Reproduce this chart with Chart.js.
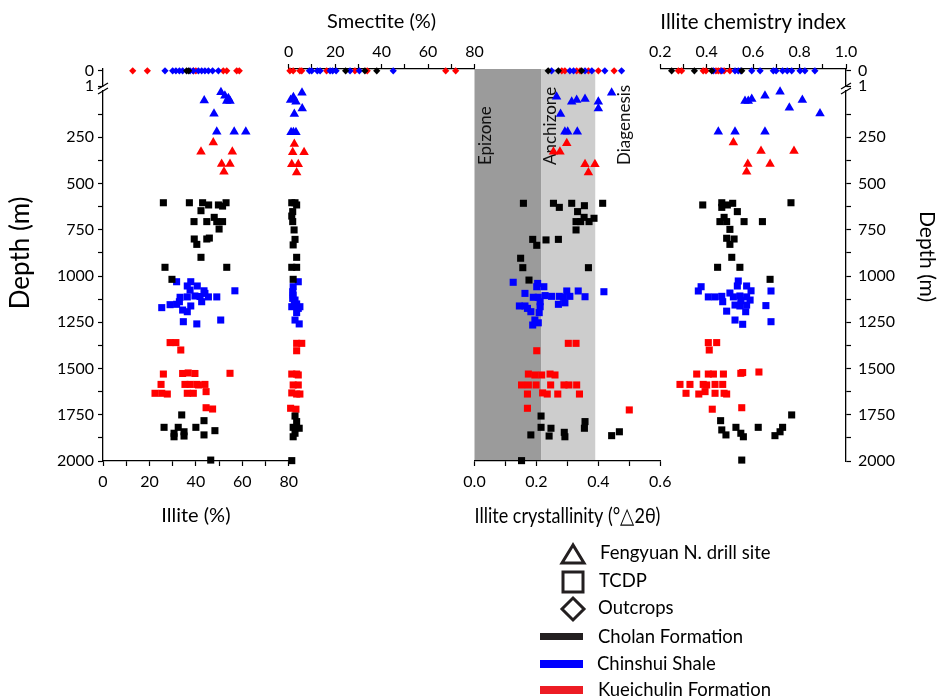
<!DOCTYPE html>
<html>
<head>
<meta charset="utf-8">
<script src="https://cdn.jsdelivr.net/npm/chart.js@4.4.1/dist/chart.umd.min.js"></script>
<style>
  html, body { margin: 0; padding: 0; background: #fff; }
  #wrap { position: relative; width: 940px; height: 697px; overflow: hidden; font-family: Lato, "Noto Sans", sans-serif; }
  #chart { position: absolute; left: 0; top: 0; }
  #key { position: absolute; left: 0; top: 0; }
  .key-text { position: absolute; font-size: 18.5px; color: #000; white-space: nowrap; transform: translateY(-50%); }
</style>
</head>
<body>
<div id="wrap">
  <canvas id="chart" width="940" height="697"></canvas>
  <svg id="key" width="940" height="697">
    <g fill="none" stroke="#231f20" stroke-width="3">
      <polygon points="573,545 562,563 584,563" />
      <rect x="563" y="572" width="20" height="20" />
      <polygon points="573,598 584,609 573,620 562,609" />
    </g>
    <rect x="540" y="633" width="43" height="7" fill="#231f20" />
    <rect x="540" y="660" width="43" height="8" fill="#0000ff" />
    <rect x="540" y="686" width="43" height="8" fill="#ed1c24" />
  </svg>
  <div class="key-text" style="left:600px;top:552px">Fengyuan N. drill site</div>
  <div class="key-text" style="left:599px;top:580px">TCDP</div>
  <div class="key-text" style="left:598px;top:607px">Outcrops</div>
  <div class="key-text" style="left:598px;top:636px">Cholan Formation</div>
  <div class="key-text" style="left:597px;top:663px">Chinshui Shale</div>
  <div class="key-text" style="left:598px;top:689px">Kueichulin Formation</div>
</div>
<script>
// ---- data: [value, depth (m)] ; outcrops sit at depth 0 (top strip) ----

// Illite (%)
const illiteFengyuanChinshui = [[50.8, 7], [52.5, 25], [54.0, 39], [54.7, 54], [53.3, 54], [43.6, 52], [47.8, 123], [49.0, 220], [56.5, 220], [61.5, 220]]
const illiteFengyuanKueichulin = [[47.5, 279], [42.2, 328], [55.7, 328], [51.1, 395], [54.7, 395], [52.1, 436]]
const illiteTcdpCholan = [[26.0, 604], [37.2, 604], [42.9, 604], [45.5, 616], [49.7, 616], [51.5, 622], [53.0, 604], [42.2, 647], [39.2, 706], [44.7, 706], [47.9, 683], [49.0, 706], [51.5, 706], [50.0, 746], [39.3, 800], [40.4, 829], [44.7, 800], [45.8, 795], [42.2, 899], [26.7, 953], [53.3, 953], [29.7, 1018],
  [33.9, 1751], [26.3, 1818], [30.6, 1850], [30.6, 1869], [32.4, 1818], [34.9, 1842], [34.9, 1865], [40.0, 1818], [43.5, 1782], [43.5, 1859], [48.2, 1836], [46.4, 1995]]
const illiteTcdpChinshui = [[31.7, 1031], [37.8, 1031], [36.3, 1054], [40.6, 1054], [37.5, 1076], [43.5, 1080], [43.9, 1094], [56.8, 1080], [33.2, 1115], [36.3, 1113], [39.6, 1108], [41.8, 1111], [45.4, 1113], [49.0, 1113], [42.5, 1139], [32.9, 1139], [37.8, 1162], [25.3, 1171], [28.9, 1155], [31.7, 1153], [34.3, 1184], [36.3, 1193], [34.6, 1247], [40.4, 1259], [50.7, 1238]]
const illiteTcdpKueichulin = [[28.9, 1360], [31.4, 1360], [33.5, 1400], [26.0, 1530], [34.3, 1527], [36.7, 1524], [39.6, 1527], [54.7, 1526], [25.0, 1586], [35.3, 1586], [37.5, 1586], [40.4, 1586], [41.1, 1589], [43.9, 1586], [22.4, 1634], [25.3, 1634], [27.7, 1638], [36.3, 1634], [38.9, 1634], [44.4, 1625], [44.4, 1712], [47.2, 1719]]
const illiteOutcropCholan = [36.0, 36.9]
const illiteOutcropChinshui = [26.7, 30.0, 31.4, 32.9, 34.3, 37.5, 38.9, 41.1, 42.5, 43.9, 45.4, 47.2, 49.7]
const illiteOutcropKueichulin = [12.8, 19.1, 38.9, 40.0, 51.8, 53.3, 57.6, 58.7]

// Smectite (%)
const smectiteFengyuanChinshui = [[5.7, 9], [2.0, 34], [0.8, 49], [3.1, 58], [5.8, 94], [2.4, 124], [1.0, 223], [2.0, 223], [3.1, 223]]
const smectiteFengyuanKueichulin = [[2.4, 286], [1.7, 331], [6.6, 331], [1.3, 396], [4.1, 396], [3.4, 441]]
const smectiteTcdpCholan = [[1.3, 604], [2.7, 604], [3.4, 616], [1.7, 652], [1.3, 676], [1.7, 706], [2.3, 751], [2.7, 802], [1.9, 832], [3.4, 899], [1.3, 953], [3.4, 953], [1.9, 1018],
  [2.7, 1757], [3.4, 1787], [1.9, 1818], [4.5, 1823], [2.7, 1850], [1.9, 1869], [1.3, 1998]]
const smectiteTcdpChinshui = [[4.1, 1031], [1.9, 1058], [1.7, 1085], [1.9, 1103], [1.7, 1121], [2.7, 1130], [2.4, 1148], [3.4, 1151], [1.3, 1166], [4.8, 1166], [4.1, 1175], [3.4, 1198], [2.7, 1238], [4.5, 1259]]
const smectiteTcdpKueichulin = [[3.4, 1364], [5.6, 1364], [3.4, 1404], [1.3, 1530], [3.4, 1530], [4.1, 1535], [1.9, 1589], [4.1, 1589], [1.3, 1632], [3.4, 1638], [4.8, 1638], [0.8, 1715], [3.1, 1720]]
const smectiteOutcropCholan = [24.5, 32.8, 37.9]
const smectiteOutcropChinshui = [8.9, 9.9, 12.3, 13.5, 17.8, 18.9, 20.4, 26.4, 30.4, 45.0]
const smectiteOutcropKueichulin = [0.5, 1.9, 4.8, 5.6, 16.3, 28.5, 33.8, 67.6, 71.9]

// Illite crystallinity (deg 2theta)
const crystFengyuanChinshui = [[0.265, 31], [0.314, 58], [0.330, 49], [0.357, 43], [0.443, 9], [0.400, 58], [0.400, 94], [0.278, 124], [0.292, 220], [0.301, 220], [0.332, 220]]
const crystFengyuanKueichulin = [[0.298, 283], [0.255, 328], [0.276, 328], [0.357, 396], [0.389, 396], [0.368, 440]]
const crystTcdpCholan = [[0.158, 607], [0.255, 607], [0.274, 629], [0.314, 607], [0.355, 620], [0.414, 607], [0.333, 652], [0.354, 683], [0.386, 688], [0.328, 706], [0.343, 706], [0.370, 706], [0.328, 751], [0.188, 802], [0.231, 805], [0.271, 802], [0.201, 834], [0.149, 904], [0.156, 955], [0.368, 955], [0.176, 1022],
  [0.215, 1757], [0.215, 1818], [0.247, 1823], [0.357, 1787], [0.355, 1823], [0.182, 1859], [0.241, 1865], [0.290, 1845], [0.292, 1869], [0.443, 1863], [0.468, 1842], [0.152, 1998]]
const crystTcdpChinshui = [[0.125, 1034], [0.204, 1040], [0.201, 1058], [0.224, 1058], [0.163, 1094], [0.298, 1081], [0.335, 1081], [0.418, 1085], [0.190, 1115], [0.206, 1115], [0.228, 1106], [0.249, 1110], [0.274, 1110], [0.287, 1115], [0.308, 1110], [0.357, 1112], [0.212, 1139], [0.292, 1145], [0.271, 1153], [0.145, 1162], [0.163, 1162], [0.212, 1166], [0.171, 1175], [0.182, 1193], [0.209, 1198], [0.195, 1238], [0.188, 1265], [0.206, 1253]]
const crystTcdpKueichulin = [[0.303, 1364], [0.328, 1364], [0.201, 1404], [0.174, 1530], [0.195, 1535], [0.217, 1535], [0.244, 1530], [0.260, 1535], [0.152, 1589], [0.174, 1589], [0.199, 1589], [0.246, 1589], [0.289, 1589], [0.305, 1589], [0.330, 1589], [0.171, 1638], [0.220, 1632], [0.235, 1638], [0.269, 1638], [0.339, 1638], [0.171, 1715], [0.500, 1724]]
const crystOutcropCholan = [0.238, 0.271, 0.346]
const crystOutcropChinshui = [0.249, 0.308, 0.320, 0.357, 0.379, 0.421, 0.475]
const crystOutcropKueichulin = [0.282, 0.292, 0.330, 0.341, 0.368, 0.400, 0.451]

// Illite chemistry index
const chemFengyuanChinshui = [[0.716, 4], [0.651, 25], [0.594, 43], [0.579, 54], [0.565, 54], [0.812, 49], [0.756, 90], [0.888, 121], [0.450, 220], [0.522, 220], [0.651, 220]]
const chemFengyuanKueichulin = [[0.515, 279], [0.634, 324], [0.776, 324], [0.577, 395], [0.673, 395], [0.572, 436]]
const chemTcdpCholan = [[0.383, 616], [0.465, 604], [0.465, 629], [0.489, 616], [0.512, 607], [0.532, 652], [0.763, 604], [0.475, 683], [0.457, 706], [0.486, 706], [0.561, 706], [0.640, 706], [0.500, 748], [0.486, 796], [0.518, 800], [0.500, 829], [0.508, 899], [0.447, 953], [0.543, 953], [0.673, 1018],
  [0.460, 1782], [0.766, 1751], [0.465, 1832], [0.483, 1859], [0.526, 1818], [0.547, 1850], [0.558, 1869], [0.622, 1818], [0.694, 1863], [0.716, 1842], [0.727, 1818], [0.551, 1995]]
const chemTcdpChinshui = [[0.376, 1058], [0.364, 1081], [0.536, 1027], [0.532, 1054], [0.572, 1054], [0.591, 1080], [0.677, 1081], [0.407, 1113], [0.436, 1113], [0.465, 1110], [0.500, 1092], [0.515, 1113], [0.543, 1108], [0.572, 1113], [0.587, 1130], [0.547, 1133], [0.469, 1139], [0.522, 1157], [0.543, 1162], [0.572, 1157], [0.655, 1160], [0.486, 1190], [0.568, 1193], [0.522, 1238], [0.555, 1261], [0.677, 1247]]
const chemTcdpKueichulin = [[0.407, 1360], [0.443, 1360], [0.411, 1400], [0.357, 1530], [0.407, 1530], [0.429, 1530], [0.472, 1530], [0.547, 1526], [0.555, 1522], [0.625, 1519], [0.285, 1586], [0.328, 1586], [0.385, 1586], [0.400, 1589], [0.436, 1586], [0.469, 1586], [0.311, 1634], [0.366, 1638], [0.393, 1625], [0.436, 1634], [0.475, 1634], [0.486, 1638], [0.424, 1720], [0.551, 1712]]
const chemOutcropCholan = [0.249, 0.347, 0.422, 0.551]
const chemOutcropChinshui = [0.429, 0.465, 0.522, 0.536, 0.547, 0.594, 0.630, 0.687, 0.699, 0.727, 0.747, 0.766, 0.802, 0.823, 0.866]
const chemOutcropKueichulin = [0.278, 0.292, 0.385, 0.397, 0.440, 0.450, 0.460, 0.475, 0.500]

// ---- ticks ----
const depthTicks = [125, 250, 375, 500, 625, 750, 875, 1000, 1125, 1250, 1375, 1500, 1625, 1750, 1875, 2000]
const stripTicks = [0, 1]
const percentTicks = [0, 10, 20, 30, 40, 50, 60, 70, 80]
const crystTicks = [0, 0.1, 0.2, 0.3, 0.4, 0.5, 0.6]
const chemTicks = [0.2, 0.3, 0.4, 0.5, 0.6, 0.7, 0.8, 0.9, 1.0]

// metamorphic zones on the crystallinity panel
const zoneNames = ["Epizone", "Anchizone", "Diagenesis"]
const zoneLimits = [0, 0.215, 0.39]
const zoneColors = ["#9b9b9b", "#cdcdcd"]
const zoneLabelAt = [0.034, 0.244, 0.486]
const zoneLabelDepth = 400

const BLACK = "#000000"
const BLUE = "#0000ff"
const RED = "#ff0000"
const FONT = 'Lato, "Noto Sans", sans-serif'

// ---- axes ----
const everyOther = (v, i) => i % 2 === 0
const oneDecimal = (v) => v.toFixed(1)

function shownAxis({ position, stack, weight, min, max, reverse, values, show, fmt, size, tickPadding, title, titleSize, titlePadding }) {
  const horizontal = position === "top" || position === "bottom"
  return {
    type: "linear",
    position,
    stack,
    stackWeight: weight,
    min,
    max,
    reverse: !!reverse,
    afterBuildTicks: (s) => { s.ticks = values.map((v) => ({ value: v })) },
    afterFit: (s) => { if (horizontal) s.height = size; else s.width = size },
    grid: { display: true, drawOnChartArea: false, drawTicks: true, tickLength: 5, color: BLACK, tickColor: BLACK, tickWidth: 1.2 },
    border: { display: true, color: BLACK, width: 1.3 },
    ticks: {
      autoSkip: false,
      maxRotation: 0,
      padding: tickPadding,
      color: BLACK,
      font: { family: FONT, size: 16 },
      callback: (v, i) => (show(v, i) ? fmt(v) : ""),
    },
    title: title
      ? { display: true, text: title, color: BLACK, font: { family: FONT, size: titleSize || 20 }, padding: titlePadding }
      : { display: false },
  }
}

function hiddenAxis({ position, stack, weight, size }) {
  const horizontal = position === "top" || position === "bottom"
  return {
    type: "linear",
    position,
    stack,
    stackWeight: weight,
    min: 0,
    max: 1,
    afterFit: (s) => { if (horizontal) s.height = size; else s.width = size },
    grid: { display: false },
    border: { display: false },
    ticks: { display: false },
    title: { display: false },
  }
}

const depthLabel = (v) => (v % 250 === 0 ? String(v) : "")

// Order matters: left & top stacks are laid out in reverse definition order
const scales = {
  yMain: shownAxis({ position: "left", stack: "L", weight: 370, min: 0, max: 2000, reverse: true, values: depthTicks, show: () => true, fmt: depthLabel, size: 103, tickPadding: 4 }),
  yGap: hiddenAxis({ position: "left", stack: "L", weight: 5, size: 103 }),
  yTop: shownAxis({ position: "left", stack: "L", weight: 17, min: -0.12, max: 1, reverse: true, values: stripTicks, show: () => true, fmt: String, size: 103, tickPadding: 4 }),

  yTopR: shownAxis({ position: "right", stack: "R", weight: 17, min: -0.12, max: 1, reverse: true, values: stripTicks, show: () => true, fmt: String, size: 94, tickPadding: 7 }),
  yGapR: hiddenAxis({ position: "right", stack: "R", weight: 5, size: 94 }),
  yMainR: shownAxis({ position: "right", stack: "R", weight: 370, min: 0, max: 2000, reverse: true, values: depthTicks, show: () => true, fmt: depthLabel, size: 94, tickPadding: 7 }),

  xChem: shownAxis({ position: "top", stack: "T", weight: 1, min: 0.2, max: 1.0, values: chemTicks, show: everyOther, fmt: oneDecimal, size: 69, tickPadding: 3, title: "Illite chemistry index", titleSize: 20.5, titlePadding: { top: 10, bottom: 0 } }),
  xTop3: hiddenAxis({ position: "top", stack: "T", weight: 1, size: 69 }),
  xSmectite: shownAxis({ position: "top", stack: "T", weight: 1, min: 0, max: 80, values: percentTicks, show: everyOther, fmt: String, size: 69, tickPadding: 3, title: "Smectite (%)", titlePadding: { top: 10, bottom: 0 } }),
  xTop1: hiddenAxis({ position: "top", stack: "T", weight: 1, size: 69 }),

  xIllite: shownAxis({ position: "bottom", stack: "B", weight: 1, min: 0, max: 80, values: percentTicks, show: everyOther, fmt: String, size: 236, tickPadding: 6, title: "Illite (%)", titlePadding: { top: 0, bottom: 169 } }),
  xBottom2: hiddenAxis({ position: "bottom", stack: "B", weight: 1, size: 236 }),
  xCryst: shownAxis({ position: "bottom", stack: "B", weight: 1, min: 0, max: 0.6, values: crystTicks, show: everyOther, fmt: oneDecimal, size: 236, tickPadding: 6, title: "Illite crystallinity (°\u25B32θ)", titleSize: 21.5, titlePadding: { top: 0, bottom: 168 } }),
  xBottom4: hiddenAxis({ position: "bottom", stack: "B", weight: 1, size: 236 }),
}

// ---- datasets ----
const markers = {
  fengyuan: { pointStyle: "triangle", radius: 5.5 },
  tcdp: { pointStyle: "rect", radius: 5 },
  outcrop: { pointStyle: "rectRot", radius: 3.6 },
}

const datasets = []
const addSeries = (xAxisID, site, color, values) => {
  const outcrop = site === "outcrop"
  datasets.push({
    xAxisID,
    yAxisID: outcrop ? "yTop" : "yMain",
    data: outcrop ? values.map((v) => ({ x: v, y: 0 })) : values.map(([x, y]) => ({ x, y })),
    pointStyle: markers[site].pointStyle,
    pointRadius: markers[site].radius,
    backgroundColor: color,
    borderColor: color,
    borderWidth: 0,
    clip: false,
  })
}

addSeries("xIllite", "outcrop", BLACK, illiteOutcropCholan)
addSeries("xIllite", "outcrop", BLUE, illiteOutcropChinshui)
addSeries("xIllite", "outcrop", RED, illiteOutcropKueichulin)
addSeries("xIllite", "fengyuan", BLUE, illiteFengyuanChinshui)
addSeries("xIllite", "fengyuan", RED, illiteFengyuanKueichulin)
addSeries("xIllite", "tcdp", BLACK, illiteTcdpCholan)
addSeries("xIllite", "tcdp", BLUE, illiteTcdpChinshui)
addSeries("xIllite", "tcdp", RED, illiteTcdpKueichulin)

addSeries("xSmectite", "outcrop", BLACK, smectiteOutcropCholan)
addSeries("xSmectite", "outcrop", BLUE, smectiteOutcropChinshui)
addSeries("xSmectite", "outcrop", RED, smectiteOutcropKueichulin)
addSeries("xSmectite", "fengyuan", BLUE, smectiteFengyuanChinshui)
addSeries("xSmectite", "fengyuan", RED, smectiteFengyuanKueichulin)
addSeries("xSmectite", "tcdp", BLACK, smectiteTcdpCholan)
addSeries("xSmectite", "tcdp", BLUE, smectiteTcdpChinshui)
addSeries("xSmectite", "tcdp", RED, smectiteTcdpKueichulin)

addSeries("xCryst", "outcrop", BLACK, crystOutcropCholan)
addSeries("xCryst", "outcrop", BLUE, crystOutcropChinshui)
addSeries("xCryst", "outcrop", RED, crystOutcropKueichulin)
addSeries("xCryst", "fengyuan", BLUE, crystFengyuanChinshui)
addSeries("xCryst", "fengyuan", RED, crystFengyuanKueichulin)
addSeries("xCryst", "tcdp", BLACK, crystTcdpCholan)
addSeries("xCryst", "tcdp", BLUE, crystTcdpChinshui)
addSeries("xCryst", "tcdp", RED, crystTcdpKueichulin)

addSeries("xChem", "outcrop", BLACK, chemOutcropCholan)
addSeries("xChem", "outcrop", BLUE, chemOutcropChinshui)
addSeries("xChem", "outcrop", RED, chemOutcropKueichulin)
addSeries("xChem", "fengyuan", BLUE, chemFengyuanChinshui)
addSeries("xChem", "fengyuan", RED, chemFengyuanKueichulin)
addSeries("xChem", "tcdp", BLACK, chemTcdpCholan)
addSeries("xChem", "tcdp", BLUE, chemTcdpChinshui)
addSeries("xChem", "tcdp", RED, chemTcdpKueichulin)

// ---- plugins ----
const zonesPlugin = {
  id: "zones",
  beforeDraw(chart) {
    const { ctx, chartArea, scales } = chart
    const x = scales.xCryst
    ctx.save()
    zoneColors.forEach((c, i) => {
      const x0 = x.getPixelForValue(zoneLimits[i])
      const x1 = x.getPixelForValue(zoneLimits[i + 1])
      ctx.fillStyle = c
      ctx.fillRect(x0, chartArea.top, x1 - x0, chartArea.bottom - chartArea.top)
    })
    ctx.fillStyle = "#111"
    ctx.font = `17px ${FONT}`
    ctx.textAlign = "left"
    ctx.textBaseline = "middle"
    zoneNames.forEach((name, i) => {
      ctx.save()
      ctx.translate(x.getPixelForValue(zoneLabelAt[i]), scales.yMain.getPixelForValue(zoneLabelDepth))
      ctx.rotate(-Math.PI / 2)
      ctx.fillText(name, 0, 0)
      ctx.restore()
    })
    ctx.restore()
  },
}

const framePlugin = {
  id: "frame",
  afterDraw(chart) {
    const { ctx, chartArea, scales } = chart
    ctx.save()
    // axis breaks between the outcrop strip and the depth axis
    ctx.strokeStyle = BLACK
    ctx.lineWidth = 1.3
    const gap = scales.yGap
    const yc = (gap.top + gap.bottom) / 2
    ;[chartArea.left, chartArea.right].forEach((x) => {
      ;[-2.5, 2.5].forEach((d) => {
        ctx.beginPath()
        ctx.moveTo(x - 5, yc + d + 3)
        ctx.lineTo(x + 5, yc + d - 3)
        ctx.stroke()
      })
    })
    // depth titles
    ctx.fillStyle = BLACK
    ctx.textAlign = "center"
    ctx.textBaseline = "middle"
    ctx.save()
    ctx.font = `26px ${FONT}`
    ctx.translate(chartArea.left - 82, scales.yMain.getPixelForValue(875))
    ctx.rotate(-Math.PI / 2)
    ctx.fillText("Depth (m)", 0, 0)
    ctx.restore()
    ctx.save()
    ctx.font = `21px ${FONT}`
    ctx.translate(chartArea.right + 81, scales.yMain.getPixelForValue(895))
    ctx.rotate(Math.PI / 2)
    ctx.fillText("Depth (m)", 0, 0)
    ctx.restore()
    ctx.restore()
  },
}

new Chart(document.getElementById("chart"), {
  type: "scatter",
  data: { datasets },
  options: {
    responsive: false,
    animation: false,
    events: [],
    layout: { padding: 0 },
    plugins: { legend: { display: false }, tooltip: { enabled: false } },
    scales,
  },
  plugins: [zonesPlugin, framePlugin],
})
</script>
</body>
</html>
